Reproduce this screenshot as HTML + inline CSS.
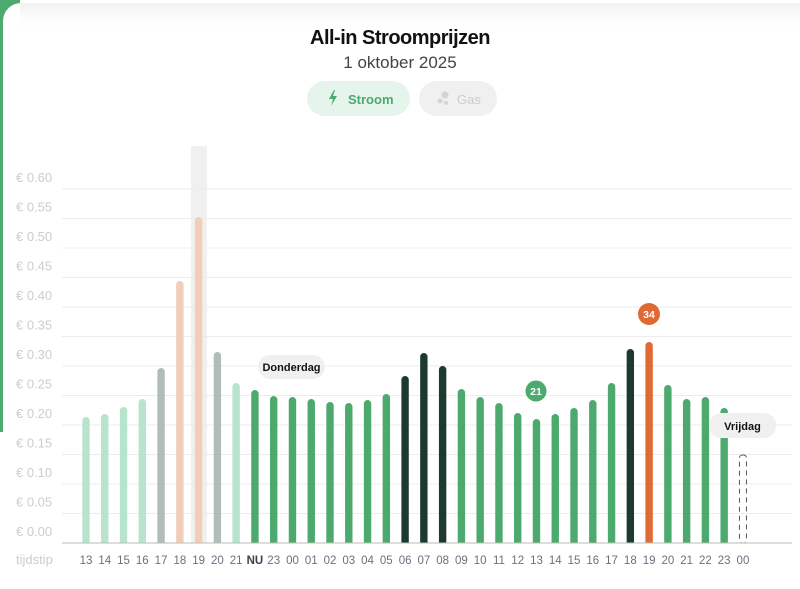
<!DOCTYPE html>
<html><head><meta charset="utf-8"><style>
html,body{margin:0;padding:0;width:800px;height:589px;overflow:hidden;background:#fff;font-family:"Liberation Sans",sans-serif}
svg{overflow:hidden}
</style></head><body>
<svg id="s" width="800" height="589" viewBox="0 0 800 589" xmlns="http://www.w3.org/2000/svg" style="position:absolute;left:0;top:0">
<defs><linearGradient id="tg" x1="0" y1="0" x2="0" y2="1"><stop offset="0" stop-color="#f2f2f2"/><stop offset="1" stop-color="#ffffff" stop-opacity="0"/></linearGradient>
<clipPath id="cp"><rect x="0" y="0" width="800" height="589"/></clipPath></defs>
<g clip-path="url(#cp)">
<rect x="0" y="0" width="800" height="589" fill="#fff"/>
<rect x="0" y="0" width="20" height="432" fill="#4caa6e"/>
<rect x="3" y="3" width="820" height="600" rx="18" fill="#fff"/>
<rect x="20" y="3" width="780" height="30" fill="url(#tg)"/>
</g>
<text x="400" y="44" text-anchor="middle" font-size="20" font-weight="bold" fill="#111" letter-spacing="-0.5">All-in Stroomprijzen</text>
<text x="400" y="68" text-anchor="middle" font-size="17" fill="#444">1 oktober 2025</text>
<rect x="307" y="81" width="103" height="35" rx="17.5" fill="#e6f5ec"/>
<path d="M334 90 l-5 9 h4 l-2 7 l6 -10 h-4 l2 -6z" fill="#4caa6e"/>
<text x="348" y="104" font-size="13" font-weight="bold" fill="#4caa6e">Stroom</text>
<rect x="419" y="81" width="78" height="35" rx="17.5" fill="#f0f0f0"/>
<circle cx="445" cy="95" r="3.5" fill="#d4d4d4"/><circle cx="440" cy="101" r="2.5" fill="#d4d4d4"/><circle cx="446" cy="103" r="2" fill="#d4d4d4"/>
<text x="457" y="104" font-size="13" fill="#ccc">Gas</text>
<rect x="191" y="146" width="16" height="397" fill="#f0f0f0"/>
<g id="grid"></g>
<g id="bars"></g>
<line x1="62" y1="543" x2="792" y2="543" stroke="#bbb" stroke-width="1"/>
<g id="xl" font-size="11.5" fill="#6b7080" text-anchor="middle"></g>
<text x="16" y="564" font-size="13" fill="#ccc">tijdstip</text>
<rect x="258" y="355" width="67" height="24" rx="12" fill="#f0f0f0"/>
<text x="291.5" y="371" text-anchor="middle" font-size="11" font-weight="bold" fill="#111">Donderdag</text>
<rect x="709" y="413" width="67" height="25" rx="12" fill="#f0f0f0"/>
<text x="742.5" y="430" text-anchor="middle" font-size="11" font-weight="bold" fill="#111">Vrijdag</text>
<circle cx="536" cy="391" r="10.5" fill="#4caa6e"/>
<text x="536" y="395" text-anchor="middle" font-size="10.5" font-weight="bold" fill="#fff">21</text>
<circle cx="649" cy="314" r="11" fill="#e06a33"/>
<text x="649" y="318" text-anchor="middle" font-size="10.5" font-weight="bold" fill="#fff">34</text>
</svg>
<script>
var NS="http://www.w3.org/2000/svg";
function el(p,t,a,txt){var e=document.createElementNS(NS,t);for(var k in a)e.setAttribute(k,a[k]);if(txt)e.textContent=txt;document.getElementById(p).appendChild(e);return e;}
for(var i=0;i<=12;i++){var y=543-i*29.5;
 if(i>0)el("grid","line",{x1:62,y1:y,x2:792,y2:y,stroke:"#ececec","stroke-width":1});
 el("grid","text",{x:16,y:y-7,"font-size":13,fill:"#cdcdcd"},"€ "+(i*0.05).toFixed(2));}
var tops=[417,414,407,399,368,281,217,352,383,390,396,397,399,402,403,400,394,376,353,366,389,397,403,413,419,414,408,400,383,349,342,385,399,397,408];
var LG="#b8e3cc",GR="#b0bdb8",PE="#f2cdb8",G="#4caa6e",D="#1e3a30",O="#e06a33";
var cols=[LG,LG,LG,LG,GR,PE,PE,GR,LG,G,G,G,G,G,G,G,G,D,D,D,G,G,G,G,G,G,G,G,G,D,O,G,G,G,G];
var labels=["13","14","15","16","17","18","19","20","21","NU","23","00","01","02","03","04","05","06","07","08","09","10","11","12","13","14","15","16","17","18","19","20","21","22","23","00"];
for(var i=0;i<36;i++){var x=86+i*18.77;
 if(i<35){el("bars","path",{d:"M"+(x-3.7)+" 543 V"+(tops[i]+3.7)+" a3.7 3.7 0 0 1 7.4 0 V543 Z",fill:cols[i]});}
 else{el("bars","rect",{x:x-3.5,y:455,width:7,height:88,rx:3,fill:"none",stroke:"#555","stroke-width":1,"stroke-dasharray":"5 4"});}
 var t=el("xl","text",{x:x,y:564},labels[i]); if(labels[i]=="NU"){t.setAttribute("font-weight","bold");t.setAttribute("fill","#3a4050");}
}
</script>
</body></html>
